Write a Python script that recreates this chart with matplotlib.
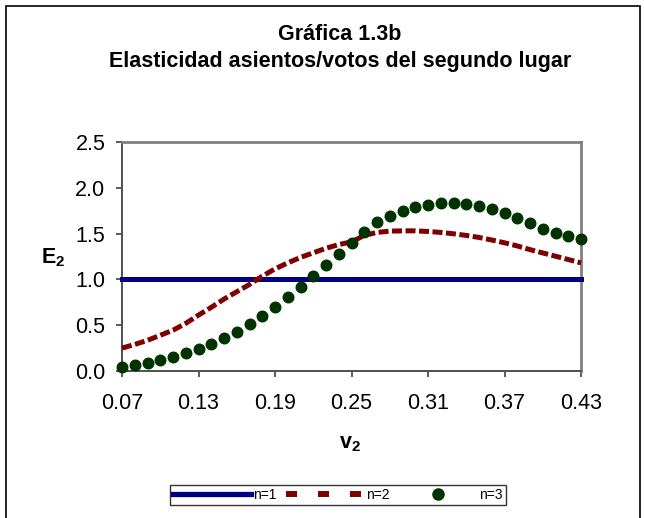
import numpy as np
import matplotlib
matplotlib.use('Agg')
import matplotlib.pyplot as plt
from matplotlib.lines import Line2D

plt.rcParams['font.family'] = ['Liberation Sans', 'DejaVu Sans']
plt.rcParams['mathtext.fontset'] = 'custom'
plt.rcParams['mathtext.rm'] = 'Liberation Sans'
plt.rcParams['mathtext.bf'] = 'Liberation Sans:bold'

# v2 from 0.07 to 0.43, step 0.01
v2 = np.round(np.arange(7, 44) / 100.0, 2)
n1 = [1.0] * 37
n2 = [0.25, 0.29, 0.335, 0.39, 0.445, 0.52, 0.61, 0.695, 0.785, 0.865,
      0.945, 1.035, 1.115, 1.18, 1.24, 1.29, 1.34, 1.38, 1.41, 1.48,
      1.513, 1.527, 1.53, 1.53, 1.523, 1.513, 1.498, 1.48, 1.458, 1.43,
      1.40, 1.365, 1.325, 1.289, 1.253, 1.217, 1.18]
n3 = [0.048, 0.062, 0.086, 0.115, 0.15, 0.192, 0.238, 0.292, 0.357, 0.43,
      0.51, 0.6, 0.7, 0.805, 0.92, 1.04, 1.158, 1.276, 1.4, 1.513,
      1.625, 1.688, 1.743, 1.786, 1.811, 1.831, 1.834, 1.827, 1.802, 1.77,
      1.724, 1.67, 1.615, 1.545, 1.51, 1.476, 1.442]
xticks = [0.07, 0.13, 0.19, 0.25, 0.31, 0.37, 0.43]
yticks = [0.0, 0.5, 1.0, 1.5, 2.0, 2.5]

fig = plt.figure(figsize=(6.45, 5.18), dpi=100)
ax = fig.add_axes([122/645, 1 - 371/518, (581-122)/645, (371-142)/518])

ax.plot(v2, n1, color='#000080', lw=3.6, clip_on=False, zorder=3)
ax.plot(v2, n2, color='#800000', lw=3.6, dashes=(2.0, 0.7), clip_on=False, zorder=3)
ax.plot(v2, n3, 'o', color='#003300', ms=7.6, mec='#003300', clip_on=False, zorder=4)

ax.set_xlim(0.07, 0.43)
ax.set_ylim(0, 2.5)
ax.set_xticks(xticks)
ax.set_xticklabels(['%.2f' % t for t in xticks])
ax.set_yticks(yticks)
ax.set_yticklabels(['%.1f' % t for t in yticks])
ax.tick_params(labelsize=15.5, direction='out', length=4, width=1.2, color='#404040')
ax.tick_params(axis='x', pad=12)
ax.tick_params(axis='y', pad=8)

for s in ['top', 'right']:
    ax.spines[s].set_color('#808080')
    ax.spines[s].set_linewidth(2)
for s in ['left', 'bottom']:
    ax.spines[s].set_color('#505050')
    ax.spines[s].set_linewidth(1.4)

fig.text(340/645, 1 - 34/518, 'Gráfica 1.3b', ha='center', va='center',
         fontsize=15.5, fontweight='bold')
fig.text(340/645, 1 - 61/518, 'Elasticidad asientos/votos del segundo lugar',
         ha='center', va='center', fontsize=15.5, fontweight='bold')
fig.text(53/645, 1 - 258/518, r'$\mathbf{E_2}$', ha='center', va='center', fontsize=15.5)
fig.text(350/645, 1 - 444/518, r'$\mathbf{v_2}$', ha='center', va='center', fontsize=15.5)

# outer chart border
fig.add_artist(plt.Rectangle((6/645, -0.05), (640-6)/645, 1 - 6/518 + 0.05,
                             transform=fig.transFigure, fill=False,
                             edgecolor='black', lw=1.2))

handles = [Line2D([], [], color='#000080', lw=3.8),
           Line2D([], [], color='#800000', lw=4.3, dashes=(1.85, 3.5)),
           Line2D([], [], color='#003300', marker='o', ls='none', ms=8)]
leg = fig.legend(handles, ['n=1', 'n=2', 'n=3'], loc='center',
                 bbox_to_anchor=(338/645, 1 - 495/518), ncol=3, fontsize=10,
                 frameon=True, fancybox=False, edgecolor='black',
                 handlelength=5.6, handletextpad=0.15, columnspacing=0.7,
                 borderpad=0.25)
leg.get_frame().set_linewidth(1.0)

fig.savefig('out.png', dpi=100)
